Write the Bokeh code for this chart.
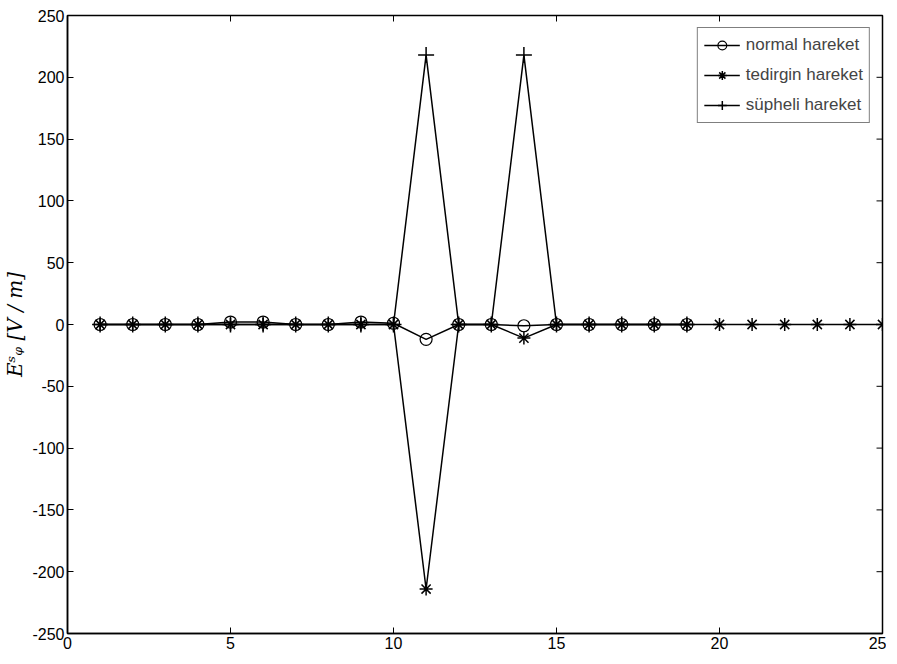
from bokeh.plotting import figure
from bokeh.models import Range1d, FixedTicker, Legend, LegendItem
from bokeh.embed import file_html
from bokeh.resources import INLINE

x_normal = list(range(1, 20))
normal = [0, 0, 0, 0, 2, 2, 0, 0, 2, 1, -12, 0, 0, -1, 0, 0, 0, 0, 0]
x_tedirgin = list(range(1, 26))
tedirgin = [0, 0, 0, 0, 0, 0, 0, 0, 0, 0, -214, 0, 0, -11, 0, 0, 0, 0, 0, 0, 0, 0, 0, 0, 0]
x_supheli = list(range(1, 20))
supheli = [0, 0, 0, 0, 0, 0, 0, 0, 0, 0, 218, 0, 0, 218, 0, 0, 0, 0, 0]

x_ticks = [0, 5, 10, 15, 20, 25]
y_ticks = [-250, -200, -150, -100, -50, 0, 50, 100, 150, 200, 250]
labels = ["normal hareket", "tedirgin hareket", "süpheli hareket"]

FONT = "Liberation Sans"
X0, X1, Y0, Y1 = 0, 25, -250, 250

p = figure(width=886, height=655, output_backend="svg", toolbar_location=None,
           x_range=Range1d(X0, X1), y_range=Range1d(Y0, Y1),
           min_border_left=63, min_border_right=4, min_border_top=15, min_border_bottom=22)
p.background_fill_color = "white"
p.border_fill_color = "white"
p.outline_line_color = "black"
p.outline_line_width = 1.5
p.xgrid.visible = False
p.ygrid.visible = False

for ax, ticks in ((p.xaxis[0], x_ticks), (p.yaxis[0], y_ticks)):
    ax.ticker = FixedTicker(ticks=ticks)
    ax.major_tick_in = 6
    ax.major_tick_out = 0
    ax.minor_tick_line_color = None
    ax.axis_line_color = "black"
    ax.axis_line_width = 1.5
    ax.major_label_text_font = FONT
    ax.major_label_text_font_size = "16px"
    ax.major_label_text_color = "black"
    ax.major_label_standoff = 3
    ax.major_label_overrides = {t: str(t) for t in ticks}

p.yaxis[0].axis_label = "Eˢᵩ [V / m]"
p.yaxis[0].axis_label_text_font = "DejaVu Serif"
p.yaxis[0].axis_label_text_font_style = "italic"
p.yaxis[0].axis_label_text_font_size = "20px"
p.yaxis[0].axis_label_text_color = "black"
p.yaxis[0].axis_label_standoff = 2

# inward ticks on the top and right edges of the box (MATLAB style)
tick_dx = (X1 - X0) * 6 / 818
tick_dy = (Y1 - Y0) * 6 / 618
p.segment(x0=x_ticks, y0=[Y1] * len(x_ticks), x1=x_ticks, y1=[Y1 - tick_dy] * len(x_ticks),
          line_color="black", line_width=1)
p.segment(x0=[X1] * len(y_ticks), y0=y_ticks, x1=[X1 - tick_dx] * len(y_ticks), y1=y_ticks,
          line_color="black", line_width=1)

l1 = p.line(x_normal, normal, line_color="black", line_width=1.5)
m1 = p.scatter(x_normal, normal, marker="circle", size=12, fill_color=None, line_color="black", line_width=1.2)
l2 = p.line(x_tedirgin, tedirgin, line_color="black", line_width=1.5)
m2 = p.scatter(x_tedirgin, tedirgin, marker="asterisk", size=13, line_color="black", line_width=1.5)
l3 = p.line(x_supheli, supheli, line_color="black", line_width=1.5)
m3 = p.scatter(x_supheli, supheli, marker="cross", size=16, line_color="black", line_width=1.5)

legend = Legend(items=[LegendItem(label=labels[0], renderers=[l1, m1]),
                       LegendItem(label=labels[1], renderers=[l2, m2]),
                       LegendItem(label=labels[2], renderers=[l3, m3])],
                location="top_right")
legend.margin = 12
legend.padding = 6
legend.spacing = 8
legend.glyph_width = 36
legend.glyph_height = 22
legend.label_height = 22
legend.label_text_font = FONT
legend.label_text_font_size = "17px"
legend.label_standoff = 6
legend.border_line_color = "black"
legend.border_line_width = 1.5
legend.background_fill_color = "white"
legend.background_fill_alpha = 1.0
p.add_layout(legend)

open("out.html", "w").write(file_html(p, INLINE))
